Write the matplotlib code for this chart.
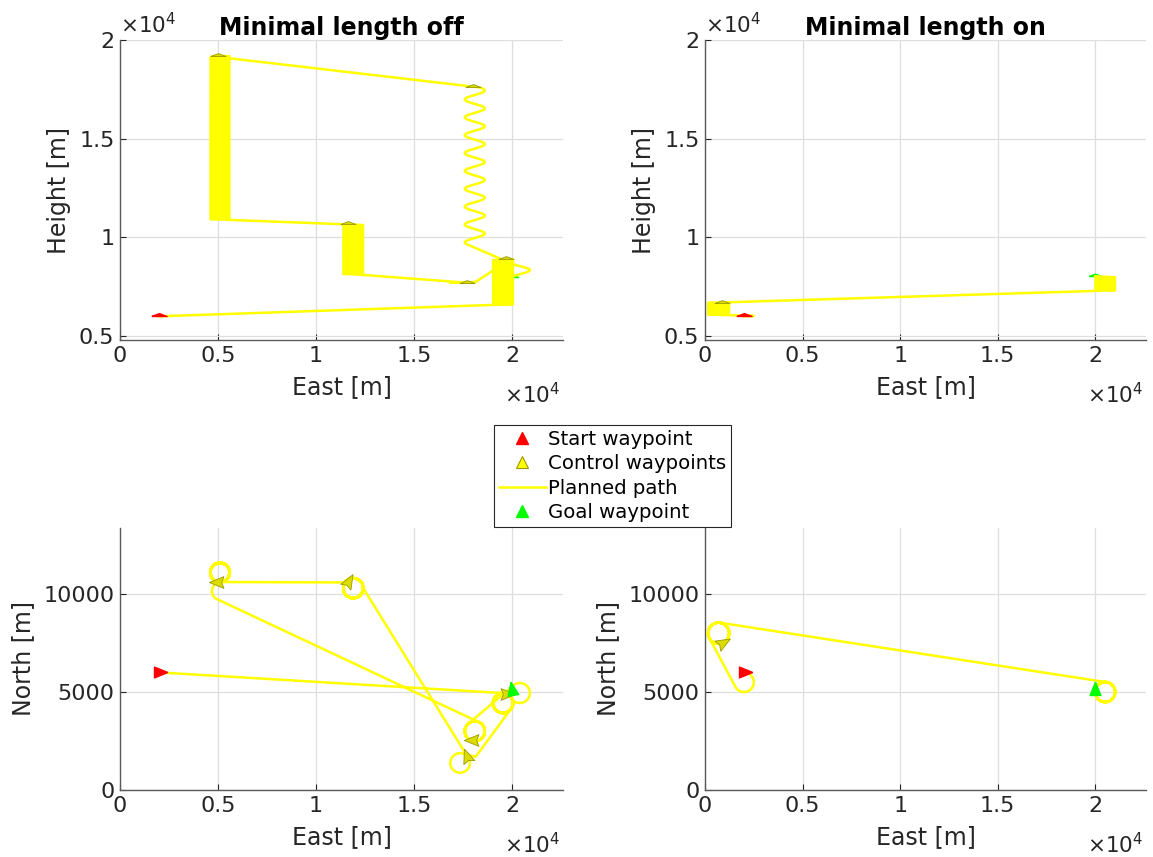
import numpy as np
import matplotlib
matplotlib.use('Agg')
import matplotlib.pyplot as plt
from matplotlib.markers import MarkerStyle
from matplotlib.transforms import Affine2D
from matplotlib.lines import Line2D

plt.rcParams['font.family'] = 'DejaVu Sans'
plt.rcParams['mathtext.default'] = 'regular'

# ---- waypoints (east, north, height [m], heading [deg from east]) ----
start_wp = (2000, 6000, 6000, 0)

off_ctrl_east = [19700, 17700, 11650, 5000, 18000]
off_ctrl_north = [4900, 1680, 10600, 10600, 2550]
off_ctrl_height = [8880, 7700, 10660, 19200, 17600]
off_ctrl_heading = [0, 110, 60, 180, 180]
off_goal = (20000, 5100, 8000, 100)

on_ctrl_east = [870]
on_ctrl_north = [7500]
on_ctrl_height = [6680]
on_ctrl_heading = [30]
on_goal = (20000, 5100, 8050, 90)

# ---- turning loops / helices of the planned paths, in flight order ----
# centre east, centre north, radius, start height, end height, start angle, turns (+ ccw, - cw)
off_loop_east = [19540, 17350, 11900, 5100, 5150, 18100, 20400]
off_loop_north = [4440, 1380, 10300, 11100, 10150, 3000, 4950]
off_loop_radius = [510, 500, 510, 490, 460, 510, 510]
off_loop_h0 = [6600, 7700, 8100, 10900, 19200, 17600, 8650]
off_loop_h1 = [8880, 7700, 10660, 19200, 19150, 9640, 8000]
off_loop_angle = [90, 60, 0, 270, 96, 63, 137]
off_loop_turns = [-40.375, 0.95, 25.403, -80, 0.4, -8.79, -0.8]
# extra corner point flown after a given loop
off_via_after = [0]
off_via_east = [18150]
off_via_north = [1700]
off_via_height = [7750]

on_loop_east = [2000, 700, 20510]
on_loop_north = [5500, 8000, 5000]
on_loop_radius = [500, 540, 510]
on_loop_h0 = [6000, 6080, 7300]
on_loop_h1 = [6050, 6700, 8030]
on_loop_angle = [90, 206.7, 81.5]
on_loop_turns = [-0.676, -8.348, -6.73]


def build_path(start, le, ln, lr, h0, h1, ang, turns,
               via_after=(), via_e=(), via_n=(), via_h=()):
    E, N, H = [start[0]], [start[1]], [start[2]]
    for i in range(len(le)):
        npts = max(int(abs(turns[i]) * 90), 30)
        t = np.linspace(0, 1, npts)
        th = np.radians(ang[i]) + 2 * np.pi * turns[i] * t
        E.extend(le[i] + lr[i] * np.cos(th))
        N.extend(ln[i] + lr[i] * np.sin(th))
        H.extend(h0[i] + (h1[i] - h0[i]) * t)
        for k, j in enumerate(via_after):
            if j == i:
                E.append(via_e[k])
                N.append(via_n[k])
                H.append(via_h[k])
    return np.array(E), np.array(N), np.array(H)


off_E, off_N, off_H = build_path(start_wp, off_loop_east, off_loop_north, off_loop_radius,
                                 off_loop_h0, off_loop_h1, off_loop_angle, off_loop_turns,
                                 off_via_after, off_via_east, off_via_north, off_via_height)
on_E, on_N, on_H = build_path(start_wp, on_loop_east, on_loop_north, on_loop_radius,
                              on_loop_h0, on_loop_h1, on_loop_angle, on_loop_turns)

# marker shapes
arrow_verts = [(1, 0), (-0.6, 0.65), (-0.35, 0), (-0.6, -0.65), (1, 0)]
tri_verts = [(1, 0), (-0.6, 0.65), (-0.6, -0.65), (1, 0)]
flat_verts = [(-1, 0), (1, 0), (0, 0.38), (-1, 0)]

red = '#ff0000'
green = '#00ff00'
yel = '#ffff00'
ctrl_face = '#dcdc00'
ctrl_edge = '#9a9a00'
axcol = '#262626'

fs_tick = 16
fs_label = 17
fs_exp = 15.5

fig = plt.figure(figsize=(11.53, 8.57), dpi=100)
W, Hf = 1153, 857


def make_ax(l, r, t, b):
    return fig.add_axes([l / W, 1 - b / Hf, (r - l) / W, (b - t) / Hf])


def style(ax):
    ax.grid(True, color='#dedede', linewidth=0.9)
    ax.set_axisbelow(True)
    for s in ['top', 'right']:
        ax.spines[s].set_visible(False)
    for s in ['left', 'bottom']:
        ax.spines[s].set_color('#5a5a5a')
        ax.spines[s].set_linewidth(1.0)
    ax.tick_params(direction='in', length=4, labelsize=fs_tick, colors=axcol,
                   labelcolor=axcol, width=0.8, pad=4)
    ax.set_xlim(0, 22600)
    ax.set_xticks([0, 5000, 10000, 15000, 20000])
    ax.set_xticklabels(['0', '0.5', '1', '1.5', '2'])
    ax.set_xlabel('East [m]', fontsize=fs_label, color=axcol, labelpad=7)
    ax.annotate(r'$\times10^{4}$', xy=(1, 0), xycoords='axes fraction',
                xytext=(-2, -30), textcoords='offset points', ha='right', va='top',
                fontsize=fs_exp, color=axcol)


def side_view(ax, E, H, ce, ch, chd, goal, title):
    ax.plot(E, H, color=yel, linewidth=1.8, zorder=3)
    ax.plot(start_wp[0], start_wp[2], linestyle='none', marker=flat_verts, markersize=11,
            color=red, zorder=4)
    for e, h in zip(ce, ch):
        ax.plot(e, h, linestyle='none', marker=flat_verts, markersize=11,
                markerfacecolor=ctrl_face, markeredgecolor=ctrl_edge, markeredgewidth=0.6, zorder=4)
    ax.plot(goal[0], goal[2], linestyle='none', marker=flat_verts, markersize=9,
            color=green, zorder=2)
    style(ax)
    ax.set_ylim(4800, 20000)
    ax.set_yticks([5000, 10000, 15000, 20000])
    ax.set_yticklabels(['0.5', '1', '1.5', '2'])
    ax.set_ylabel('Height [m]', fontsize=fs_label, color=axcol, labelpad=6)
    ax.annotate(r'$\times10^{4}$', xy=(0, 1), xycoords='axes fraction',
                xytext=(0, 2), textcoords='offset points', ha='left', va='bottom',
                fontsize=fs_exp, color=axcol)
    ax.set_title(title, fontsize=17, fontweight='bold', pad=3)


def rot(verts, ang):
    return MarkerStyle(verts, transform=Affine2D().rotate_deg(ang))


def top_view(ax, E, N, ce, cn, chd, goal):
    ax.plot(E, N, color=yel, linewidth=1.8, zorder=3)
    ax.plot(start_wp[0], start_wp[1], linestyle='none', marker=rot(tri_verts, start_wp[3]),
            markersize=12, color=red, zorder=4)
    for e, n, hd in zip(ce, cn, chd):
        ax.plot(e, n, linestyle='none', marker=rot(arrow_verts, hd), markersize=13,
                markerfacecolor=ctrl_face, markeredgecolor=ctrl_edge, markeredgewidth=0.6, zorder=4)
    ax.plot(goal[0], goal[1], linestyle='none', marker=rot(tri_verts, goal[3]),
            markersize=12, color=green, zorder=4)
    style(ax)
    ax.set_ylim(0, 13370)
    ax.set_yticks([0, 5000, 10000])
    ax.set_yticklabels(['0', '5000', '10000'])
    ax.set_ylabel('North [m]', fontsize=fs_label, color=axcol, labelpad=6)


ax1 = make_ax(120, 563, 40, 340)
ax2 = make_ax(705, 1146, 40, 340)
ax3 = make_ax(120, 563, 528, 790)
ax4 = make_ax(705, 1146, 528, 790)

side_view(ax1, off_E, off_H, off_ctrl_east, off_ctrl_height, off_ctrl_heading, off_goal,
          'Minimal length off')
side_view(ax2, on_E, on_H, on_ctrl_east, on_ctrl_height, on_ctrl_heading, on_goal,
          'Minimal length on')
top_view(ax3, off_E, off_N, off_ctrl_east, off_ctrl_north, off_ctrl_heading, off_goal)
top_view(ax4, on_E, on_N, on_ctrl_east, on_ctrl_north, on_ctrl_heading, on_goal)

handles = [
    Line2D([], [], linestyle='none', marker='^', markersize=8, color=red),
    Line2D([], [], linestyle='none', marker='^', markersize=8, markerfacecolor=yel,
           markeredgecolor=ctrl_edge, markeredgewidth=0.8),
    Line2D([], [], color=yel, linewidth=1.8),
    Line2D([], [], linestyle='none', marker='^', markersize=8, color=green),
]
labels = ['Start waypoint', 'Control waypoints', 'Planned path', 'Goal waypoint']
leg = fig.legend(handles, labels, loc='center', bbox_to_anchor=(612.5 / W, 1 - 476 / Hf),
                 fontsize=14.2, frameon=True, fancybox=False, framealpha=1,
                 edgecolor=axcol, handlelength=2.4, handletextpad=0.1,
                 labelspacing=0.28, borderpad=0.25, borderaxespad=0)
leg.get_frame().set_linewidth(0.8)

fig.savefig('out.png', dpi=100)
